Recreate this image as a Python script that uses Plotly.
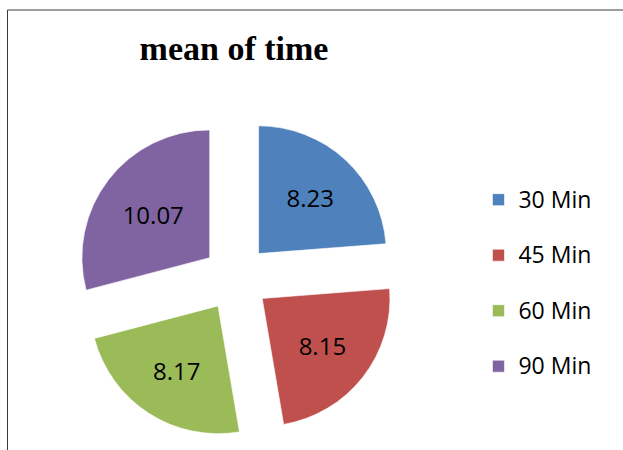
import plotly.graph_objects as go

labels = ["30 Min", "45 Min", "60 Min", "90 Min"]
values = [8.23, 8.15, 8.17, 10.07]
colors = ["#4F81BD", "#C0504D", "#9BBB59", "#8064A2"]
title_text = "mean of time"

W, H = 623, 450

legend_labels = ["<span style='font-size:23px'>" + l + "</span><br> " for l in labels]

fig = go.Figure(
    go.Pie(
        labels=legend_labels,
        values=values,
        sort=False,
        direction="clockwise",
        rotation=0,
        pull=[0.26] * len(values),
        marker=dict(colors=colors, line=dict(color="rgba(255,255,255,0.6)", width=1)),
        textinfo="value",
        texttemplate="%{value:.2f}",
        textposition="inside",
        insidetextorientation="horizontal",
        textfont=dict(family="Open Sans", size=24, color="#000000"),
        domain=dict(x=[75 / W, 397 / W], y=[1 - 439 / H, 1 - 117 / H]),
        hoverinfo="value",
    )
)

fig.update_layout(
    width=W,
    height=H,
    margin=dict(l=0, r=0, t=0, b=0),
    paper_bgcolor="white",
    plot_bgcolor="white",
    title=dict(
        text="<b>" + title_text + "</b>",
        font=dict(family="Liberation Serif", size=34, color="#000000"),
        x=234 / W,
        xanchor="center",
        y=1 - 48 / H,
        yanchor="middle",
    ),
    legend=dict(
        font=dict(family="Open Sans", size=20.2, color="#000000"),
        x=0.768,
        xanchor="left",
        y=1 - 180 / H,
        yanchor="top",
        valign="top",
        bgcolor="rgba(0,0,0,0)",
    ),
    shapes=[
        dict(type="line", xref="paper", yref="paper", x0=7.5 / W, x1=7.5 / W, y0=0, y1=1 - 10 / H,
             line=dict(color="#3a3a3a", width=1)),
        dict(type="line", xref="paper", yref="paper", x0=7.5 / W, x1=1, y0=1 - 10 / H, y1=1 - 10 / H,
             line=dict(color="#3a3a3a", width=1)),
    ],
)

fig.write_html("out.html")
